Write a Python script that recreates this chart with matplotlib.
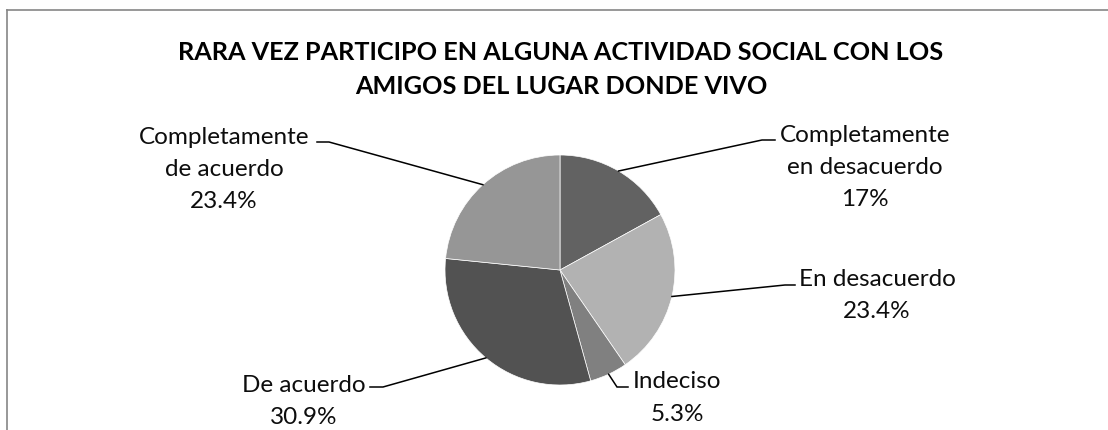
import matplotlib.pyplot as plt
import numpy as np
from matplotlib.lines import Line2D

plt.rcParams["font.family"] = ["Lato", "DejaVu Sans"]

W, H = 1108, 430

title_lines = ["RARA VEZ PARTICIPO EN ALGUNA ACTIVIDAD SOCIAL CON LOS",
               "AMIGOS DEL LUGAR DONDE VIVO"]
labels = ["Completamente\nen desacuerdo", "En desacuerdo", "Indeciso",
          "De acuerdo", "Completamente\nde acuerdo"]
values = [17.0, 23.4, 5.3, 30.9, 23.4]
pct_text = ["17%", "23.4%", "5.3%", "30.9%", "23.4%"]
colors = ["#626262", "#b2b2b2", "#808080", "#525252", "#969696"]

# layout, in pixels from top-left
center = (560, 270)
radius = 115
label_xy = [(865, 133), (877, 277), (677, 380), (304, 383), (224, 135)]
elbows = [(762, 140), (785, 285), (617, 387), (383, 387), (329, 142)]
line_ends = [(775, 140), (795, 285), (628, 387), (370, 387), (317, 142)]
line_gap = 32.5

fig = plt.figure(figsize=(W / 100, H / 100), dpi=100)
ax = fig.add_axes([0, 0, 1, 1])

wedges, _ = ax.pie(values, colors=colors, startangle=90, counterclock=False,
                   center=(center[0], H - center[1]), radius=radius,
                   wedgeprops=dict(edgecolor="white", linewidth=0.5))

for w, (lx, ly), (ex, ey), (tx, ty), lab, pct in zip(
        wedges, label_xy, elbows, line_ends, labels, pct_text):
    mid = np.deg2rad((w.theta1 + w.theta2) / 2)
    x0 = w.center[0] + w.r * np.cos(mid)
    y0 = w.center[1] + w.r * np.sin(mid)
    ax.plot([x0, ex, tx], [y0, H - ey, H - ty], color="black", lw=1.1,
            solid_joinstyle="miter")
    for i, line in enumerate(lab.split("\n") + [pct]):
        ax.text(lx, H - (ly + i * line_gap), line, ha="center",
                va="center_baseline", fontsize=17.5, color="#0d0d0d")

for i, t in enumerate(title_lines):
    ax.text(561, H - (51 + i * 34), t, ha="center", va="center_baseline",
            fontsize=18.2, fontweight="bold", color="black")

ax.set_xlim(0, W)
ax.set_ylim(0, H)
ax.axis("off")

# chart area border (cut off at right and bottom)
fig.add_artist(Line2D([7 / W, 7 / W], [0, 1 - 10 / H], color="#868686", lw=1.2))
fig.add_artist(Line2D([7 / W, 1], [1 - 10 / H, 1 - 10 / H], color="#868686", lw=1.2))

fig.savefig("out.png", dpi=100)
